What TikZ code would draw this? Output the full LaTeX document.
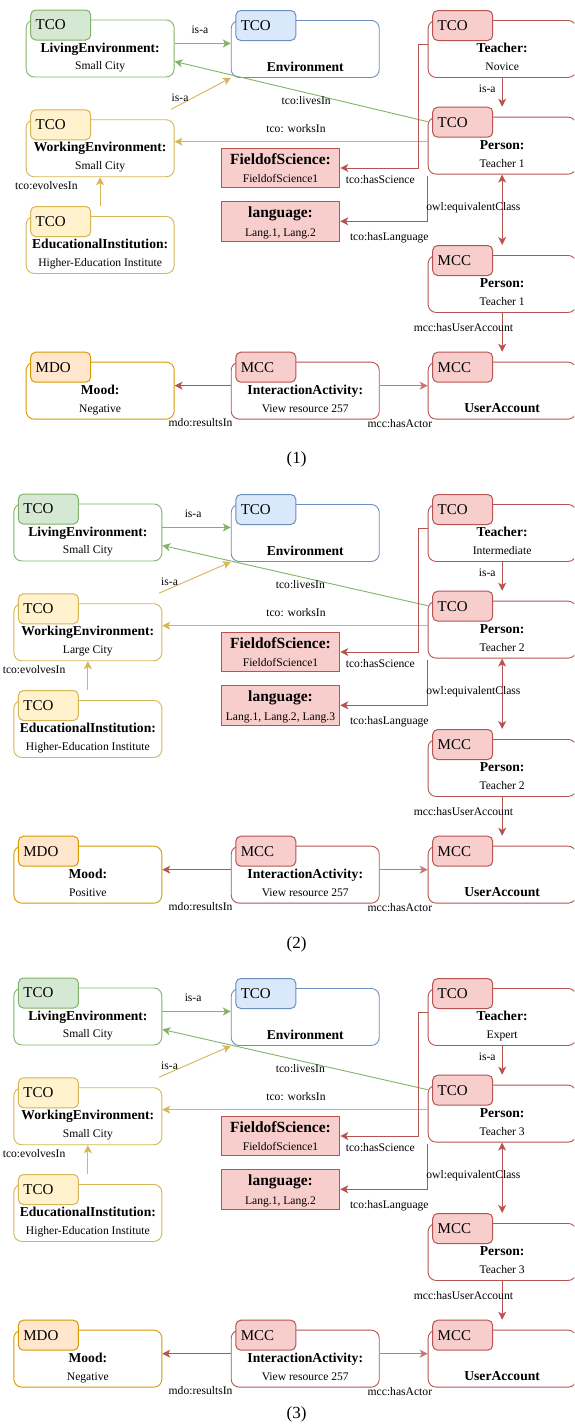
\documentclass[tikz,border=0pt]{standalone}
\usepackage{fontspec}
\setmainfont{Liberation Serif}
\usetikzlibrary{calc,arrows.meta}

% draw.io style palette
\definecolor{grnline}{HTML}{82B366}
\definecolor{grnfill}{HTML}{D5E8D4}
\definecolor{blueline}{HTML}{6C8EBF}
\definecolor{bluefill}{HTML}{DAE8FC}
\definecolor{yelline}{HTML}{D6B656}
\definecolor{yelfill}{HTML}{FFF2CC}
\definecolor{redline}{HTML}{B85450}
\definecolor{redfill}{HTML}{F8CECC}
\definecolor{orgline}{HTML}{D79B00}
\definecolor{orgfill}{HTML}{FFE6CC}

\newcommand\tagfont{\fontsize{15}{17}\selectfont}
\newcommand\titlefont{\fontsize{13.6}{16}\selectfont\bfseries}
\newcommand\valuefont{\fontsize{11.6}{14}\selectfont}
\newcommand\bigtitlefont{\fontsize{15.5}{18}\selectfont\bfseries}
\newcommand\capfont{\fontsize{17}{20}\selectfont}

\tikzset{
  mainbox/.style={rounded corners=8pt, fill=white, line width=0.9pt,
    minimum width=148pt, minimum height=57pt, anchor=north west, inner sep=0pt},
  tagbox/.style={rounded corners=5pt, line width=1pt, minimum width=60pt,
    minimum height=30pt, text width=50pt, align=left, inner xsep=5pt,
    inner ysep=0pt, anchor=north west, font=\tagfont},
  plainbox/.style={draw=redline, fill=redfill, line width=1pt,
    minimum width=118.6pt, minimum height=39.6pt, anchor=north west, inner sep=0pt},
  titletxt/.style={font=\titlefont, anchor=base, inner sep=0pt},
  bigtitletxt/.style={font=\bigtitlefont, anchor=base, inner sep=0pt},
  valuetxt/.style={font=\valuefont, anchor=base, inner sep=0pt},
  lbl/.style={font=\valuefont, inner sep=0pt},
  conn/.style={line width=0.9pt, -{Stealth[length=8pt, width=8pt, inset=2.2pt]}},
  bothconn/.style={line width=0.9pt, {Stealth[length=8pt, width=8pt, inset=2.2pt]}-{Stealth[length=8pt, width=8pt, inset=2.2pt]}},
  capt/.style={font=\capfont, inner sep=0pt}
}

% ontology box: name, x, y(top), colour prefix, tag, title, value
\newcommand\obox[7]{%
  \node[mainbox, draw=#4line] (#1) at (#2,{#3}) {};
  \node[tagbox, draw=#4line, fill=#4fill] (#1-t) at ($(#1.north west)+(4.5,-10)$) {#5};
  \node[titletxt] (#1-h) at ($(#1.north)+(0,32.5)$) {#6};
  \node[valuetxt] (#1-v) at ($(#1.north)+(0,50.3)$) {#7};
}
% ontology box with a single bold line
\newcommand\oboxone[6]{%
  \node[mainbox, draw=#4line] (#1) at (#2,{#3}) {};
  \node[tagbox, draw=#4line, fill=#4fill] (#1-t) at ($(#1.north west)+(4.5,-10)$) {#5};
  \node[titletxt] (#1-h) at ($(#1.north)+(0,51.2)$) {#6};
}
% plain attribute box: name, x, y(top), title, value
\newcommand\pbox[5]{%
  \node[plainbox] (#1) at (#2,{#3}) {};
  \node[bigtitletxt] (#1-h) at ($(#1.north)+(0,16.7)$) {#4};
  \node[valuetxt] (#1-v) at ($(#1.north)+(0,35)$) {#5};
}

% one scenario: suffix, vertical offset, left column x,
% working environment, teacher level, person, languages, mood
\newcommand\drawpanel[8]{%
  % left column
  \obox{le#1}{#3}{19.5+#2}{grn}{TCO}{LivingEnvironment:}{Small City}
  \obox{we#1}{#3}{119.3+#2}{yel}{TCO}{WorkingEnvironment:}{#4}
  \obox{ei#1}{#3}{216+#2}{yel}{TCO}{EducationalInstitution:}{Higher-Education Institute}
  \obox{mo#1}{#3}{361.7+#2}{org}{MDO}{Mood:}{#8}
  % middle column
  \oboxone{en#1}{230.8}{20+#2}{blue}{TCO}{Environment}
  \pbox{fs#1}{220.7}{147.7+#2}{FieldofScience:}{FieldofScience1}
  \pbox{lg#1}{220.7}{201+#2}{language:}{#7}
  \obox{ia#1}{230.8}{361.7+#2}{red}{MCC}{InteractionActivity:}{View resource 257}
  % right column
  \obox{te#1}{427.7}{20+#2}{red}{TCO}{Teacher:}{#5}
  \obox{pe#1}{427.7}{116.7+#2}{red}{TCO}{Person:}{#6}
  \obox{pm#1}{427.7}{255+#2}{red}{MCC}{Person:}{#6}
  \oboxone{ua#1}{427.7}{361.7+#2}{red}{MCC}{UserAccount}
  % connector end points
  \coordinate (le#1-o) at ($(le#1.east)+(0,-5)$);
  \coordinate (le#1-i) at ($(le#1.east)+(0,13)$);
  \coordinate (pe#1-c) at ($(pe#1.north west)+(0,5)$);
  \coordinate (pe#1-w) at ($(pe#1.west)+(0,-4)$);
  \coordinate (te#1-w) at ($(te#1.west)+(0,-5)$);
  \coordinate (ia#1-l) at ($(ia#1.west)+(0,-5)$);
  \coordinate (ia#1-r) at ($(ia#1.east)+(0,-5)$);
  % connectors
  \draw[conn, grnline] (le#1-o) -- node[lbl, pos=0.45, yshift=13.7pt, text=black]{is-a} (le#1-o -| en#1.west);
  \draw[conn, grnline] (pe#1-c) -- node[lbl, pos=0.48, yshift=-8pt, text=black]{tco:livesIn} (le#1-i);
  \draw[conn, yelline] ($(we#1.north east)+(-3.5,-10)$) -- node[lbl, pos=0.15, yshift=7pt, text=black]{is-a} (en#1.south west);
  \draw[conn, yelline] (pe#1-w) -- (pe#1-w -| we#1.east)
    node[lbl, at start, xshift=-131.7pt, yshift=13pt, text=black]{tco: worksIn};
  \draw[conn, yelline] ($(ei#1.north)+(0,-10.5)$) -- node[lbl, pos=0.7, xshift=-53.8pt, text=black]{tco:evolvesIn} (we#1.south);
  \draw[conn, redline] (te#1-w) -- ++(-9.4,0) |- (fs#1.east)
    node[lbl, xshift=40pt, yshift=-11.8pt, text=black]{tco:hasScience};
  \draw[conn, redline] ($(pe#1.south west)+(0,1.5)$) |- (lg#1.east)
    node[lbl, xshift=49pt, yshift=-16pt, text=black]{tco:hasLanguage};
  \draw[conn, redline] (te#1.south) -- node[lbl, pos=0.37, xshift=-15pt, text=black]{is-a} ($(pe#1.north)+(0,-10)$);
  \draw[bothconn, redline] (pe#1.south) -- node[lbl, pos=0.47, xshift=-28.7pt, text=black]{owl:equivalentClass} ($(pm#1.north)+(0,-10)$);
  \draw[conn, redline] (pm#1.south) -- node[lbl, pos=0.39, xshift=-38.7pt, text=black]{mcc:hasUserAccount} ($(ua#1.north)+(0,-10)$);
  \draw[conn, redline] (ia#1-l) -- (ia#1-l -| mo#1.east)
    node[lbl, at start, xshift=-30.2pt, yshift=-36.5pt, text=black]{mdo:resultsIn};
  \draw[conn, redline!80] (ia#1-r) -- (ia#1-r -| ua#1.west)
    node[lbl, at start, xshift=20.2pt, yshift=-37.5pt, text=black]{mcc:hasActor};
}

\begin{document}
\begin{tikzpicture}[x=1pt, y=-1pt]
  \useasboundingbox (0,0) rectangle (574,1425);
  \clip (0,0) rectangle (574,1425);
  \fill[white] (0,0) rectangle (574,1425);

  \drawpanel{a}{0}{25.7}{Small City}{Novice}{Teacher 1}{Lang.1, Lang.2}{Negative}
  \drawpanel{b}{484}{13.4}{Large City}{Intermediate}{Teacher 2}{Lang.1, Lang.2, Lang.3}{Positive}
  \drawpanel{c}{968}{13.4}{Small City}{Expert}{Teacher 3}{Lang.1, Lang.2}{Negative}

  \node[capt] (cap1) at (296.5,459) {(1)};
  \node[capt] (cap2) at (296.5,944.3) {(2)};
  \node[capt] (cap3) at (296.5,1414.3) {(3)};
\end{tikzpicture}
\end{document}
